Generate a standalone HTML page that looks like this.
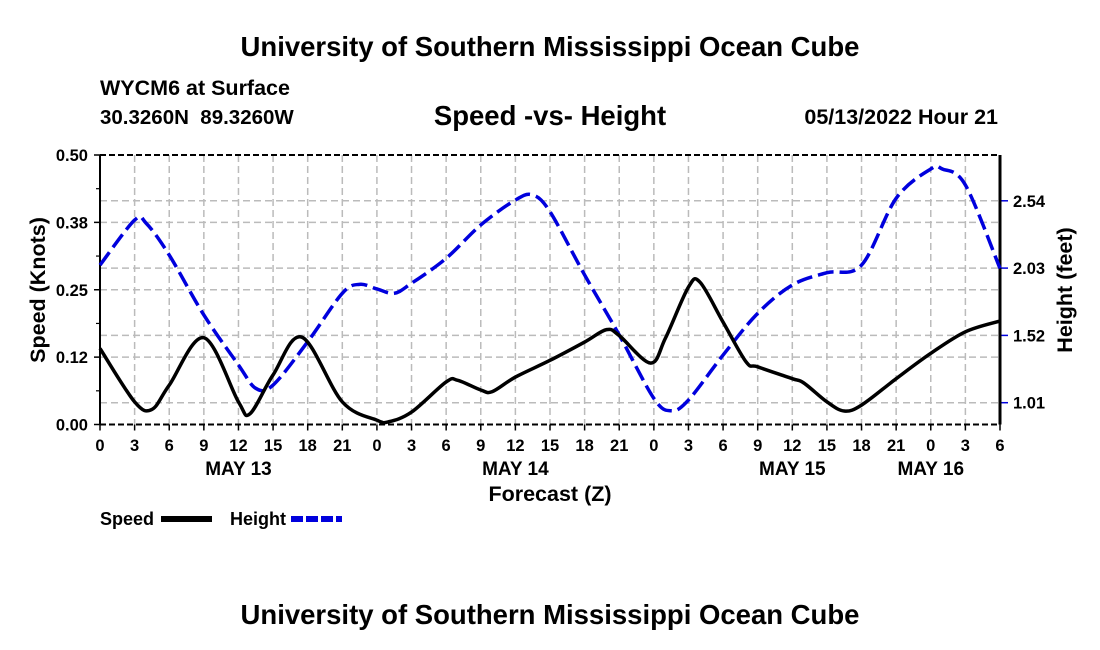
<!DOCTYPE html>
<html><head><meta charset="utf-8"><style>
html,body{margin:0;padding:0;background:#fff;}
svg{display:block;font-family:"Liberation Sans",Arial,sans-serif;font-weight:bold;}
text{white-space:pre;}
</style></head><body>
<svg id="chart" width="1100" height="650" viewBox="0 0 1100 650">
<text x="550" y="56" font-size="27.5" text-anchor="middle">University of Southern Mississippi Ocean Cube</text>
<text x="100" y="95" font-size="21.5">WYCM6 at Surface</text>
<text x="100" y="124" font-size="20.5" xml:space="preserve">30.3260N  89.3260W</text>
<text x="550" y="125" font-size="27.5" text-anchor="middle">Speed -vs- Height</text>
<text x="998" y="124" font-size="21.5" text-anchor="end">05/13/2022 Hour 21</text>
<g id="grid"></g>
<g id="axes"></g>
<g id="series"></g>
<text x="550" y="501" font-size="21.5" text-anchor="middle">Forecast (Z)</text>
<text transform="translate(45,290) rotate(-90)" font-size="21.5" text-anchor="middle">Speed (Knots)</text>
<text transform="translate(1072,290) rotate(-90)" font-size="21.5" text-anchor="middle">Height (feet)</text>
<g>
<text x="100" y="525" font-size="18">Speed</text>
<line x1="161" y1="519" x2="212" y2="519" stroke="#000" stroke-width="6"/>
</g>
<g>
<text x="230" y="525" font-size="18">Height</text>
<line x1="291" y1="519" x2="342" y2="519" stroke="#0000dd" stroke-width="6" stroke-dasharray="12,3"/>
</g>
<text x="550" y="624" font-size="27.5" text-anchor="middle">University of Southern Mississippi Ocean Cube</text>
</svg>
<script>
const hourLabels=[0,3,6,9,12,15,18,21,0,3,6,9,12,15,18,21,0,3,6,9,12,15,18,21,0,3,6];
const dayLabels=["MAY 13","MAY 14","MAY 15","MAY 16"];
const dayHours=[12,36,60,72];
const speedTicks=[0,0.125,0.25,0.375,0.5];
const speedTickLabels=["0.00","0.12","0.25","0.38","0.50"];
const heightTicks=[1.01,1.52,2.03,2.54];
const speedHours=[0,3,4.5,6,9,12,13,15,17.5,21,24,25,27,30,31,33,34,36,39,42,43.9,45,47.7,49,51,52,54,56,57,60,61,63,64.5,66,69,72,75,78];
const speedValues=[0.141,0.042,0.028,0.073,0.161,0.042,0.02,0.092,0.162,0.042,0.008,0.005,0.023,0.079,0.082,0.064,0.061,0.088,0.119,0.153,0.176,0.165,0.114,0.16,0.255,0.264,0.19,0.116,0.107,0.085,0.077,0.042,0.025,0.036,0.085,0.132,0.172,0.192];
const heightHours=[0,3,4,6,9,12,13.5,15,18,21,22.5,24,25.5,27,30,33,36,37.5,39,42,45,48,49.5,51,54,57,60,63,66,69,72,73,75,78];
const heightValues=[2.053,2.394,2.37,2.129,1.675,1.296,1.119,1.144,1.472,1.839,1.907,1.872,1.839,1.915,2.104,2.357,2.546,2.584,2.457,1.978,1.523,1.043,0.949,1.03,1.371,1.687,1.902,1.995,2.053,2.559,2.781,2.781,2.66,2.028];

const X0=100,X1=1000,Y0=155,Y1=424.5;
const xs=h=>X0+h/78*(X1-X0);
const ys=v=>Y1-v/0.5*(Y1-Y0);
const pxPerFt=67.3/0.51;
const yh=v=>402.7-(v-1.01)*pxPerFt;
const NS="http://www.w3.org/2000/svg";
function mk(tag,attrs,parent){const e=document.createElementNS(NS,tag);for(const k in attrs)e.setAttribute(k,attrs[k]);parent.appendChild(e);return e;}
const grid=document.getElementById('grid'),axes=document.getElementById('axes'),series=document.getElementById('series');
hourLabels.forEach((l,i)=>{
  const x=xs(i*3);
  const g=mk('line',{x1:x,y1:Y0,x2:x,y2:Y1,stroke:'#bbb','stroke-width':1.5,'stroke-dasharray':'7,4'},grid);
  
  
  mk('line',{x1:x,y1:Y1,x2:x,y2:Y1+6,stroke:'#000','stroke-width':1.5},axes);
  const t=mk('text',{x:x,y:451,'font-size':16.5,'text-anchor':'middle'},axes);t.textContent=l;
  
  
});
dayLabels.forEach((l,i)=>{
  const t=mk('text',{x:xs(dayHours[i]),y:475,'font-size':19,'text-anchor':'middle'},axes);t.textContent=l;
  
  
});
speedTicks.forEach((v,i)=>{
  const y=ys(v);
  if(i>0&&i<speedTicks.length-1){const g=mk('line',{x1:X0,y1:y,x2:X1,y2:y,stroke:'#bbb','stroke-width':1.5,'stroke-dasharray':'7,4'},grid);
  
  }
  mk('line',{x1:X0-6,y1:y,x2:X0,y2:y,stroke:'#000','stroke-width':1.5},axes);
  const t=mk('text',{x:X0-12,y:y+6,'font-size':16.5,'text-anchor':'end'},axes);t.textContent=speedTickLabels[i];
  
  
});
for(let v=0.0625;v<0.5;v+=0.125){mk('line',{x1:X0-4,y1:ys(v),x2:X0,y2:ys(v),stroke:'#000','stroke-width':1.2},axes);}
heightTicks.forEach(v=>{
  const y=yh(v);
  const g=mk('line',{x1:X0,y1:y,x2:X1,y2:y,stroke:'#bbb','stroke-width':1.5,'stroke-dasharray':'7,4'},grid);
  
  
  mk('line',{x1:X1,y1:y,x2:X1+8,y2:y,stroke:'#0000dd','stroke-width':1.5},axes);
  const t=mk('text',{x:X1+13,y:y+6,'font-size':16.5},axes);t.textContent=v.toFixed(2);
  
  
});
mk('line',{x1:X0,y1:Y0,x2:X1,y2:Y0,stroke:'#000','stroke-width':2,'stroke-dasharray':'6,3'},axes);
mk('line',{x1:X0,y1:Y1,x2:X1,y2:Y1,stroke:'#000','stroke-width':2,'stroke-dasharray':'6,3'},axes);
mk('line',{x1:X0,y1:Y0,x2:X0,y2:Y1,stroke:'#000','stroke-width':2},axes);
mk('line',{x1:X1,y1:Y0,x2:X1,y2:Y1,stroke:'#000','stroke-width':3},axes);
function smooth(pts){
  let d=`M${pts[0][0]},${pts[0][1]}`;
  for(let i=0;i<pts.length-1;i++){
    const p0=pts[i-1]||pts[i],p1=pts[i],p2=pts[i+1],p3=pts[i+2]||p2;
    const c1=[p1[0]+(p2[0]-p0[0])/6,p1[1]+(p2[1]-p0[1])/6];
    const c2=[p2[0]-(p3[0]-p1[0])/6,p2[1]-(p3[1]-p1[1])/6];
    d+=` C${c1[0]},${c1[1]} ${c2[0]},${c2[1]} ${p2[0]},${p2[1]}`;
  }
  return d;
}
const hp=mk('path',{d:smooth(heightHours.map((h,i)=>[xs(h),yh(heightValues[i])])),fill:'none',stroke:'#0000dd','stroke-width':3.5,'stroke-dasharray':'16,6'},series);


const sp=mk('path',{d:smooth(speedHours.map((h,i)=>[xs(h),ys(speedValues[i])])),fill:'none',stroke:'#000','stroke-width':3.5},series);


</script>
</body></html>
